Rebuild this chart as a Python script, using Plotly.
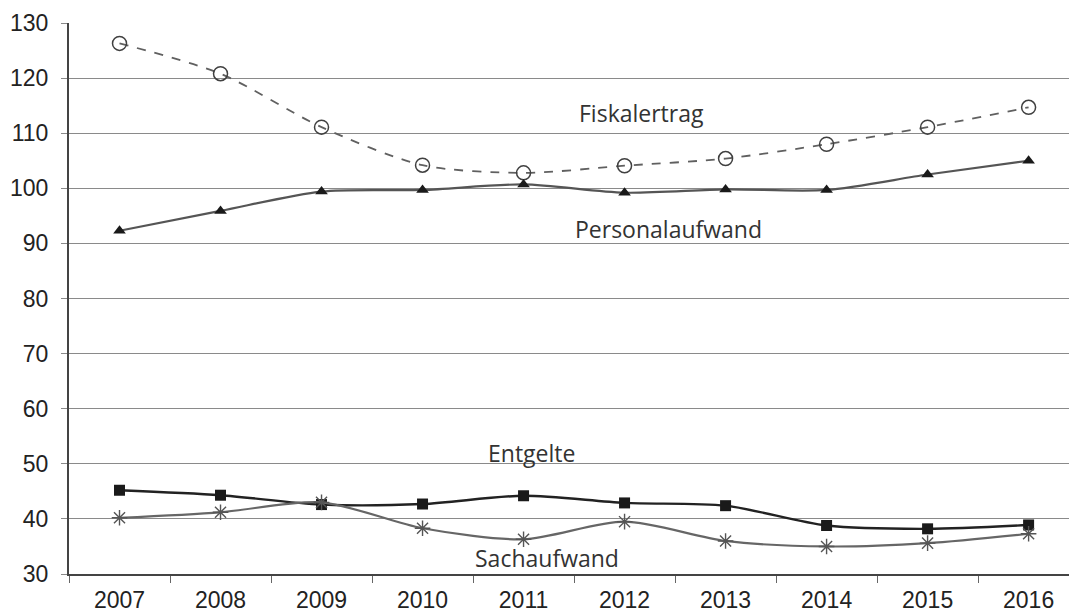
import plotly.graph_objects as go

years = ["2007", "2008", "2009", "2010", "2011", "2012", "2013", "2014", "2015", "2016"]
fiskalertrag = [126.3, 120.8, 111.1, 104.2, 102.8, 104.1, 105.4, 108.0, 111.1, 114.7]
personalaufwand = [92.3, 95.9, 99.4, 99.7, 100.7, 99.2, 99.8, 99.7, 102.5, 105.0]
entgelte = [45.2, 44.3, 42.6, 42.7, 44.2, 42.9, 42.4, 38.8, 38.2, 38.9]
sachaufwand = [40.2, 41.2, 43.0, 38.3, 36.3, 39.5, 36.0, 35.0, 35.6, 37.3]
y_ticks = [30, 40, 50, 60, 70, 80, 90, 100, 110, 120, 130]
series_labels = ["Fiskalertrag", "Personalaufwand", "Entgelte", "Sachaufwand"]

fig = go.Figure()

fig.add_trace(go.Scatter(
    x=years, y=fiskalertrag, mode="lines+markers", name=series_labels[0],
    line=dict(color="#606060", width=1.8, dash="dash", shape="spline", smoothing=0.8),
    marker=dict(symbol="circle-open", size=14, color="#404040", line=dict(width=1.5, color="#404040")),
))
fig.add_trace(go.Scatter(
    x=years, y=personalaufwand, mode="lines+markers", name=series_labels[1],
    line=dict(color="#555555", width=2.2, shape="spline", smoothing=0.8),
    marker=dict(symbol="triangle-up", size=11, color="#1a1a1a"),
))
fig.add_trace(go.Scatter(
    x=years, y=entgelte, mode="lines+markers", name=series_labels[2],
    line=dict(color="#222222", width=2.4, shape="spline", smoothing=0.8),
    marker=dict(symbol="square", size=11, color="#1a1a1a"),
))
fig.add_trace(go.Scatter(
    x=years, y=sachaufwand, mode="lines+markers", name=series_labels[3],
    line=dict(color="#666666", width=2.2, shape="spline", smoothing=0.8),
    marker=dict(symbol="asterisk-open", size=13, color="#555555", line=dict(width=1.4, color="#555555")),
))

label_font = dict(family="Open Sans", size=23, color="#333333")
label_pos = [(0.5727, 113.6), (0.599, 92.6), (0.4627, 52.0), (0.4777, 32.9)]
for text, (px, py) in zip(series_labels, label_pos):
    fig.add_annotation(xref="paper", yref="y", x=px, y=py, text=text,
                       showarrow=False, font=label_font, xanchor="center", yanchor="middle")

fig.update_layout(
    width=1069, height=614,
    margin=dict(l=69, r=0, t=23, b=40),
    paper_bgcolor="white", plot_bgcolor="white",
    showlegend=False,
    font=dict(family="Liberation Sans, Arial", size=23, color="#222222"),
)
fig.update_xaxes(
    type="category", range=[-0.5, 9.4],
    showgrid=False, showline=True, linecolor="#444444", linewidth=2,
    ticks="outside", tickson="boundaries", ticklen=7, tickcolor="#666666", tickwidth=1,
    ticklabelstandoff=4,
    tickfont=dict(family="Liberation Sans, Arial", size=23, color="#222222"),
)
fig.update_yaxes(
    range=[30, 130], tickvals=y_ticks,
    showgrid=True, gridcolor="#8a8a8a", gridwidth=1,
    showline=True, linecolor="#444444", linewidth=2,
    ticks="outside", ticklen=6, tickcolor="#8a8a8a",
    ticklabelstandoff=8,
    tickfont=dict(family="Liberation Sans, Arial", size=23, color="#222222"),
    zeroline=False,
)

fig.write_html("out.html", config={"displayModeBar": False},
               post_script="document.body.style.margin='0';document.body.style.overflow='hidden';")
